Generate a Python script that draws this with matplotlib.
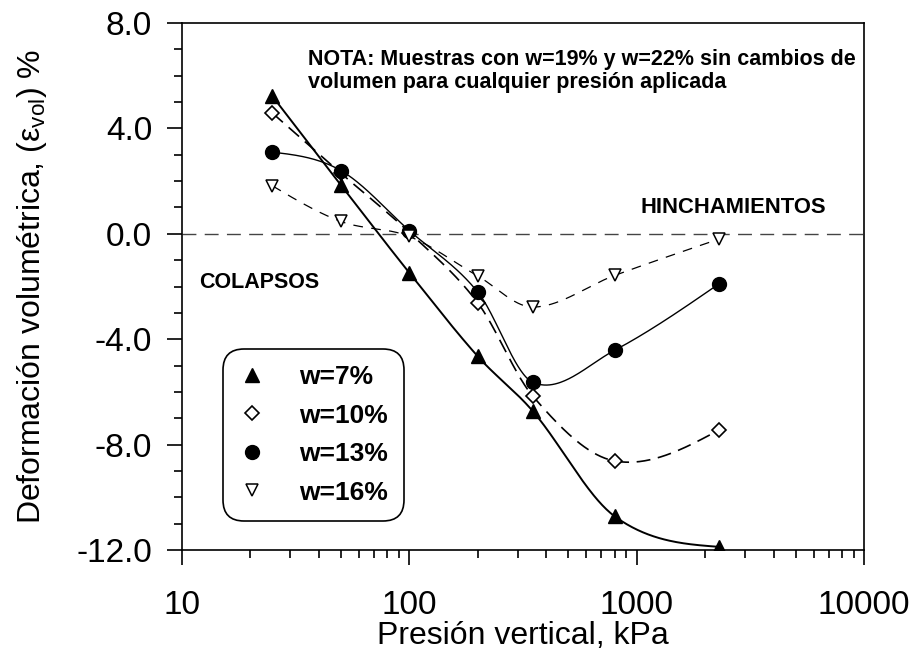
import numpy as np
import matplotlib
matplotlib.use("Agg")
import matplotlib.pyplot as plt
from matplotlib.lines import Line2D

plt.rcParams['font.family'] = ['Liberation Sans', 'DejaVu Sans']
plt.rcParams['mathtext.default'] = 'regular'
plt.rcParams['lines.scale_dashes'] = False

# ---- data ----
pressure = [25, 50, 100, 200, 350, 800, 2300]
w7 = [5.22, 1.85, -1.48, -4.65, -6.74, -10.72, -11.88]
w10 = [4.58, 2.30, 0.05, -2.62, -6.17, -8.62, -7.45]
w13 = [3.10, 2.40, 0.12, -2.21, -5.64, -4.42, -1.90]
w16 = [1.82, 0.47, -0.10, -1.60, -2.78, -1.58, -0.20]
labels = ["w=7%", "w=10%", "w=13%", "w=16%"]


def smooth_curve(x, y, n=60):
    """Cubic Hermite (Catmull-Rom type) curve through the points."""
    x = np.asarray(x, float)
    y = np.asarray(y, float)
    m = len(x)
    t = np.zeros(m)
    for i in range(1, m - 1):
        t[i] = (y[i + 1] - y[i - 1]) / (x[i + 1] - x[i - 1])
    t[0] = (3 * (y[1] - y[0]) / (x[1] - x[0]) - t[1]) / 2
    t[-1] = (3 * (y[-1] - y[-2]) / (x[-1] - x[-2]) - t[-2]) / 2
    xs_all, ys_all = [], []
    for i in range(m - 1):
        h = x[i + 1] - x[i]
        s = np.linspace(0, 1, n)
        h00 = 2 * s ** 3 - 3 * s ** 2 + 1
        h10 = s ** 3 - 2 * s ** 2 + s
        h01 = -2 * s ** 3 + 3 * s ** 2
        h11 = s ** 3 - s ** 2
        ys = h00 * y[i] + h10 * h * t[i] + h01 * y[i + 1] + h11 * h * t[i + 1]
        xs_all.append(x[i] + s * h)
        ys_all.append(ys)
    return np.concatenate(xs_all), np.concatenate(ys_all)


fig = plt.figure(figsize=(9.09, 6.54), dpi=100)
ax = fig.add_axes([0.2002, 0.159, 0.7503, 0.8058])

lx = np.log10(pressure)

series = [
    (w7, dict(color='black', lw=1.4, ls='-'),
     dict(marker='^', ms=10, mfc='black', mec='black', mew=1.0)),
    (w10, dict(color='black', lw=1.2, dashes=[10, 5.5]),
     dict(marker='D', ms=7, mfc='white', mec='black', mew=1.2)),
    (w13, dict(color='black', lw=1.0, ls='-'),
     dict(marker='o', ms=10, mfc='black', mec='black', mew=1.0)),
    (w16, dict(color='black', lw=0.9, dashes=[7, 6]),
     dict(marker='v', ms=9, mfc='white', mec='black', mew=1.1)),
]

ax.axhline(0, color='#444444', lw=1.0, dashes=[10, 6], zorder=1)

handles = []
for (vals, lstyle, mstyle), lab in zip(series, labels):
    xs, ys = smooth_curve(lx, vals)
    ax.plot(10 ** xs, ys, zorder=2, **lstyle)
    ax.plot(pressure, vals, ls='none', zorder=3, **mstyle)
    handles.append(Line2D([], [], ls='none', **mstyle))

ax.set_xscale('log')
ax.set_xlim(10, 10000)
ax.set_ylim(-12, 8)
ax.set_yticks(np.arange(-12, 8.1, 4))
ax.set_yticks(np.arange(-12, 8.1, 1), minor=True)
ax.set_yticklabels([f"{v:.1f}" for v in np.arange(-12, 8.1, 4)])
ax.set_xticks([10, 100, 1000, 10000])
ax.set_xticklabels(["10", "100", "1000", "10000"])

ax.tick_params(which='major', direction='out', length=10.5, width=1.2,
               labelsize=24)
ax.tick_params(axis='x', which='major', pad=18)
ax.tick_params(axis='y', which='major', pad=11)
ax.tick_params(which='minor', direction='out', length=5.5, width=1.2)
for s in ax.spines.values():
    s.set_linewidth(1.2)

ax.set_xlabel("Presión vertical, kPa", fontsize=23, labelpad=0)
ax.set_ylabel("Deformación volumétrica, (ε$_{vol}$) %", fontsize=23)
ax.yaxis.set_label_coords(-0.195, 0.5)

ax.text(0.185, 0.951, "NOTA: Muestras con w=19% y w=22% sin cambios de\nvolumen para cualquier presión aplicada",
        transform=ax.transAxes, fontsize=15.5, fontweight='bold', va='top', ha='left',
        linespacing=1.12)
ax.text(0.673, 0.649, "HINCHAMIENTOS", transform=ax.transAxes, fontsize=15.8,
        fontweight='bold', va='center', ha='left')
ax.text(0.025, 0.507, "COLAPSOS", transform=ax.transAxes, fontsize=15.5,
        fontweight='bold', va='center', ha='left')

leg = ax.legend(handles, labels, loc='lower left', bbox_to_anchor=(0.060, 0.055),
                borderaxespad=0, prop={'size': 19, 'weight': 'bold'},
                handlelength=1.0, handletextpad=1.25, borderpad=0.62,
                labelspacing=0.55, frameon=True, fancybox=True, framealpha=1)
fr = leg.get_frame()
fr.set_edgecolor('black')
fr.set_linewidth(1.2)
fr.set_boxstyle('round,pad=0,rounding_size=0.8')

fig.savefig("out.png", dpi=100)
